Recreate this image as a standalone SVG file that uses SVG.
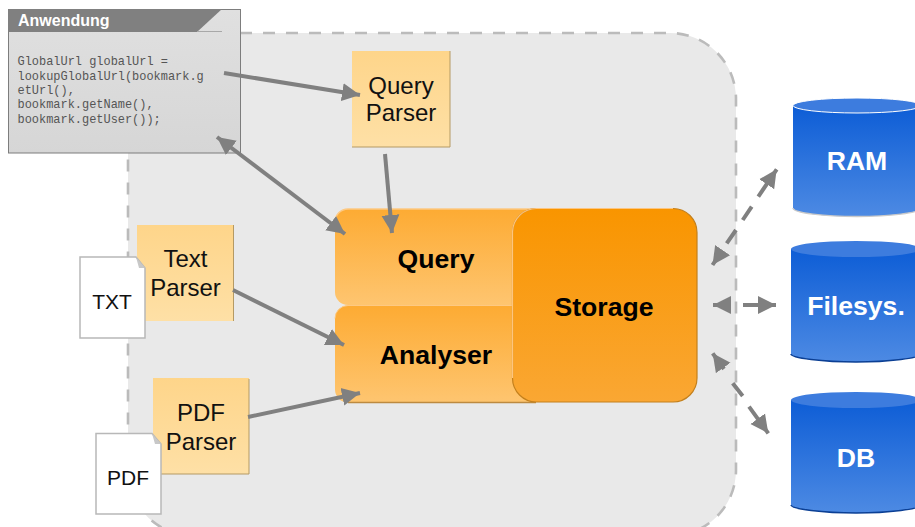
<svg xmlns="http://www.w3.org/2000/svg" width="915" height="527" viewBox="0 0 915 527">
<style>
.sans{font-family:"Liberation Sans",Arial,sans-serif}
.note{font-size:24px;fill:#111;text-anchor:middle}
.big{font-size:26.600px;font-weight:bold;fill:#000;text-anchor:middle}
.db{font-size:26.600px;font-weight:bold;fill:#fff;text-anchor:middle}
.doc{font-size:21px;fill:#111;text-anchor:middle}
.code{font-family:"Liberation Mono","Courier New",monospace;font-size:11.950px;fill:#555}
.line{fill:none;stroke:#808080;stroke-width:4}
</style>
<defs>
<linearGradient id="gN" x1="0" y1="0" x2="0" y2="1"><stop offset="0" stop-color="#fed58a"/><stop offset="1" stop-color="#fee0a6"/></linearGradient>
<linearGradient id="gO" x1="0" y1="0" x2="0" y2="1"><stop offset="0" stop-color="#fdab33"/><stop offset="1" stop-color="#fec570"/></linearGradient>
<linearGradient id="gS" x1="0" y1="0" x2="0" y2="1"><stop offset="0" stop-color="#f99500"/><stop offset="1" stop-color="#faa733"/></linearGradient>
<linearGradient id="gB" x1="0" y1="0" x2="0" y2="1"><stop offset="0" stop-color="#0d5dd6"/><stop offset="1" stop-color="#4d8ae3"/></linearGradient>
<linearGradient id="gA" x1="0" y1="0" x2="0" y2="1"><stop offset="0" stop-color="#e0e0e0"/><stop offset="1" stop-color="#d6d6d6"/></linearGradient>
<marker id="ah" markerUnits="userSpaceOnUse" markerWidth="20" markerHeight="20" viewBox="0 0 20 20" refX="18" refY="10" orient="auto-start-reverse"><path d="M0 1L18 10L0 19Z" fill="#808080"/></marker>
</defs>

<g id="container"><rect x="128" y="33" width="608" height="503" rx="66" fill="#e9e9e9" stroke="#bbb" stroke-width="2.600" stroke-dasharray="12 11"/></g>

<g id="query"><path d="M348 209H536V305H348A13 13 0 0 1 335 292V222A13 13 0 0 1 348 209Z" fill="url(#gO)"/><path d="M335 222A13 13 0 0 1 348 209H536" fill="none" stroke="#fdc983" stroke-width="1.500"/><text class="sans big" x="436" y="268">Query</text></g>
<g id="analyser"><path d="M348 305.500H536V402.500H348A13 13 0 0 1 335 389.500V318.500A13 13 0 0 1 348 305.500Z" fill="url(#gO)"/><path d="M335 318.500A13 13 0 0 1 348 305.500H536" fill="none" stroke="#fdc983"/><path d="M348 402.500H536" stroke="#bd8a40" stroke-width="1.500" fill="none"/><text class="sans big" x="436" y="364">Analyser</text></g>
<g id="storage"><rect x="512.500" y="208.500" width="184.500" height="193.500" rx="24" fill="url(#gS)" stroke="#c4801c" stroke-width="1.200"/><path d="M512.500 378V232A24 24 0 0 1 536.500 208.500H673" stroke="#fcc580" stroke-width="1.200" fill="none"/><text class="sans big" x="604" y="316">Storage</text></g>

<g id="query-parser"><rect x="352" y="51" width="98" height="96" fill="url(#gN)"/><path d="M450 51V147H352" stroke="#b59a64" fill="none"/><text class="sans note" x="401" y="93.500">Query</text><text class="sans note" x="401" y="121">Parser</text></g>
<g id="text-parser"><rect x="137" y="225" width="97" height="96" fill="url(#gN)"/><path d="M233.500 225V321" stroke="#b59a64" fill="none"/><text class="sans note" x="185.500" y="267">Text</text><text class="sans note" x="185.500" y="296">Parser</text></g>
<g id="pdf-parser"><rect x="153" y="378" width="96" height="96" fill="url(#gN)"/><path d="M249 379V474H153" stroke="#b59a64" fill="none"/><text class="sans note" x="201" y="421">PDF</text><text class="sans note" x="201" y="450">Parser</text></g>

<g id="txt-doc"><path d="M80 257H136L145 268V338H80Z" fill="#fff" stroke="#b8b8b8" stroke-width="1.500"/><path d="M136 257L145 268H139Z" fill="#c8c8c8"/><text class="sans doc" x="112" y="308.500">TXT</text></g>
<g id="pdf-doc"><path d="M96 433.500H152L161 444V514H96Z" fill="#fff" stroke="#b8b8b8" stroke-width="1.500"/><path d="M152 433.500L161 444H155Z" fill="#c8c8c8"/><text class="sans doc" x="128" y="485">PDF</text></g>

<g id="anwendung">
<rect x="8.500" y="9.500" width="232" height="143.500" fill="url(#gA)" stroke="#7d7d7d"/>
<path d="M8 9H222L197 32H8Z" fill="#808080"/>
<path d="M197 31.500H222" stroke="#a8a8a8" fill="none"/>
<text class="sans" x="18" y="26" font-size="16" font-weight="bold" fill="#fff">Anwendung</text>
<text class="code" x="17.500" y="65">GlobalUrl globalUrl =</text>
<text class="code" x="17.500" y="79.500">lookupGlobalUrl(bookmark.g</text>
<text class="code" x="17.500" y="93.500">etUrl(),</text>
<text class="code" x="17.500" y="108">bookmark.getName(),</text>
<text class="code" x="17.500" y="122.500">bookmark.getUser());</text>
</g>

<g id="ram"><path d="M793 106V208C793 213 825 216.500 857 216.500S921 213 921 208V106Z" fill="url(#gB)"/><path d="M793 208C793 213 825 216.500 857 216.500S921 213 921 208" fill="none" stroke="#c9c9c9" stroke-width="1.500"/><ellipse cx="857" cy="105.500" rx="64" ry="7.500" fill="#3d7cde" stroke="#fff"/><text class="sans db" x="857" y="170">RAM</text></g>
<g id="filesys"><path d="M791 249V354C791 358 823 362 856 362S921 358 921 354V249Z" fill="url(#gB)"/><path d="M791 354C791 358 823 362 856 362S921 358 921 354" fill="none" stroke="#0b3f94" stroke-width="1.500"/><ellipse cx="856" cy="249" rx="65" ry="8" fill="#3d7cde"/><text class="sans db" x="856" y="315">Filesys.</text></g>
<g id="db"><path d="M791 400V505C791 509 823 513 856 513S921 509 921 505V400Z" fill="url(#gB)"/><path d="M791 505C791 509 823 513 856 513S921 509 921 505" fill="none" stroke="#0b3f94" stroke-width="1.500"/><ellipse cx="856" cy="400" rx="65" ry="8" fill="#3d7cde"/><text class="sans db" x="856" y="467">DB</text></g>

<g id="connectors">
<path class="line" d="M224 73L360 95" marker-end="url(#ah)"/>
<path class="line" d="M217 137L345 234" marker-start="url(#ah)" marker-end="url(#ah)"/>
<path class="line" d="M385 154L392 233" marker-end="url(#ah)"/>
<path class="line" d="M233 290L344 345" marker-end="url(#ah)"/>
<path class="line" d="M248 417L360 393" marker-end="url(#ah)"/>
<path class="line" d="M712.500 265L722 251M726.700 243.300L736 230M742.700 220L751.700 206.700M758.300 196.700L776.700 169.300" marker-start="url(#ah)" marker-end="url(#ah)"/>
<path class="line" d="M713 305L725 305M743 305L776 305" marker-start="url(#ah)" marker-end="url(#ah)"/>
<path class="line" d="M712.700 353.300L724 369M732.700 383.300L742.700 396M749 406.700L768.300 433.300" marker-start="url(#ah)" marker-end="url(#ah)"/>
</g>
</svg>
